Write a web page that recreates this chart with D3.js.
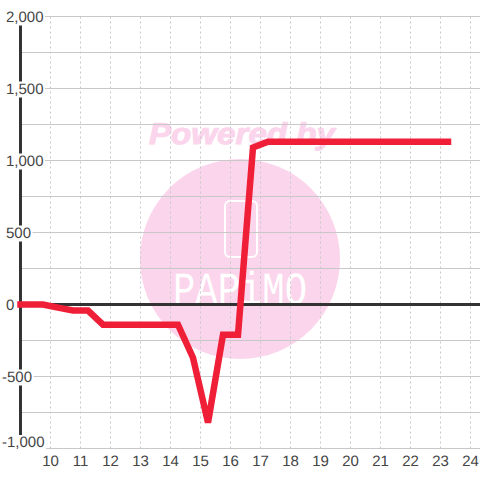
<!DOCTYPE html>
<html>
<head>
<meta charset="utf-8">
<script src="https://cdnjs.cloudflare.com/ajax/libs/d3/7.8.5/d3.min.js"></script>
<style>
  html, body { margin: 0; padding: 0; background: #fff; }
  svg { display: block; }
  text { text-rendering: geometricPrecision; }
</style>
</head>
<body>
<div id="chart"></div>
<script>
const hours = [9, 9.75, 10.25, 10.75, 11.25, 11.75, 12.25, 12.75, 13.25, 13.75, 14.25, 14.75, 15.25, 15.75, 16.25, 16.75, 17.25, 18.25, 19.25, 20.25, 21.25, 22.25, 23.25];
const values = [0, 0, -22, -42, -42, -140, -140, -140, -140, -140, -140, -370, -820, -210, -210, 1090, 1130, 1130, 1130, 1130, 1130, 1130, 1130];
const xTicks = [10, 11, 12, 13, 14, 15, 16, 17, 18, 19, 20, 21, 22, 23, 24];
const yMajor = [2000, 1500, 1000, 500, 0, -500, -1000];
const yMinor = [1750, 1250, 750, 250, -250, -750];

const width = 480, height = 480;
const svg = d3.select("#chart").append("svg")
    .attr("width", width)
    .attr("height", height);

// 30px per hour, 72px per 500
const x = d3.scaleLinear().domain([9, 24.33]).range([20.5, 480.4]);
const y = d3.scaleLinear().domain([2000, -1000]).range([16.5, 448.5]);

// watermark goes under the grid
const mark = svg.append("g");
mark.append("circle")
    .attr("cx", 240).attr("cy", 259).attr("r", 100)
    .attr("fill", "#fbd5ec");
mark.append("text")
    .attr("x", 242).attr("y", 144)
    .attr("text-anchor", "middle")
    .attr("font-family", "Liberation Sans")
    .attr("font-weight", "bold")
    .attr("font-style", "italic")
    .attr("font-size", 30)
    .attr("textLength", 186)
    .attr("lengthAdjust", "spacingAndGlyphs")
    .attr("fill", "#fbd5ec")
    .attr("stroke", "#fbd5ec")
    .attr("stroke-width", 1)
    .text("Powered by");
mark.append("rect")
    .attr("x", 225).attr("y", 201)
    .attr("width", 32).attr("height", 56)
    .attr("rx", 5)
    .attr("fill", "none")
    .attr("stroke", "#fff")
    .attr("stroke-width", 2);
mark.append("text")
    .attr("x", 240).attr("y", 304)
    .attr("text-anchor", "middle")
    .attr("font-family", "Liberation Mono")
    .attr("font-size", 46)
    .attr("textLength", 134)
    .attr("lengthAdjust", "spacingAndGlyphs")
    .attr("fill", "#fff")
    .text("PAPiMO");

// grid
svg.append("g").selectAll("line")
    .data(xTicks)
    .enter().append("line")
    .attr("x1", d => x(d)).attr("x2", d => x(d))
    .attr("y1", y(2000)).attr("y2", y(-1000))
    .attr("stroke", "#c8c8c8")
    .attr("stroke-dasharray", "2,3");

svg.append("g").selectAll("line")
    .data(yMajor.concat(yMinor))
    .enter().append("line")
    .attr("x1", x(9)).attr("x2", width)
    .attr("y1", d => y(d)).attr("y2", d => y(d))
    .attr("stroke", "#c8c8c8");

// axis lines
svg.append("line")
    .attr("x1", x(9)).attr("x2", x(9))
    .attr("y1", y(2000)).attr("y2", y(-1000))
    .attr("stroke", "#333")
    .attr("stroke-width", 3);
svg.append("line")
    .attr("x1", x(9)).attr("x2", width)
    .attr("y1", y(0)).attr("y2", y(0))
    .attr("stroke", "#333")
    .attr("stroke-width", 3);

// y labels sit on a white box that hides the axis and grid behind them
const yFormat = d => d3.format(",")(d).replace("\u2212", "-");
const yLabels = svg.append("g").selectAll("g")
    .data(yMajor)
    .enter().append("g");
const yText = yLabels.append("text")
    .attr("x", d => d < 0 ? 2 : 6)
    .attr("y", d => Math.min(y(d) + 5, 447))   // bottom label is pushed up to stay on the plot
    .attr("font-family", "Liberation Sans")
    .attr("font-size", 15)
    .attr("fill", "#444")
    .text(d => yFormat(d));
yText.each(function () {
    const b = this.getBBox();
    d3.select(this.parentNode).insert("rect", "text")
        .attr("x", b.x - 1).attr("y", b.y + 1)
        .attr("width", b.width + 2.5).attr("height", b.height - 1)
        .attr("fill", "#fff");
});

// x labels
svg.append("g").selectAll("text")
    .data(xTicks)
    .enter().append("text")
    .attr("x", d => x(d))
    .attr("y", 466)
    .attr("text-anchor", "middle")
    .attr("font-family", "Liberation Sans")
    .attr("font-size", 15)
    .attr("fill", "#444")
    .text(d => d);

// series
const line = d3.line()
    .x((d, i) => x(hours[i]))
    .y(d => y(d));
svg.append("path")
    .datum(values)
    .attr("d", line)
    .attr("fill", "none")
    .attr("stroke", "#f01f38")
    .attr("stroke-width", 6.5)
    .attr("stroke-linecap", "square")
    .attr("stroke-linejoin", "miter");
</script>
</body>
</html>
